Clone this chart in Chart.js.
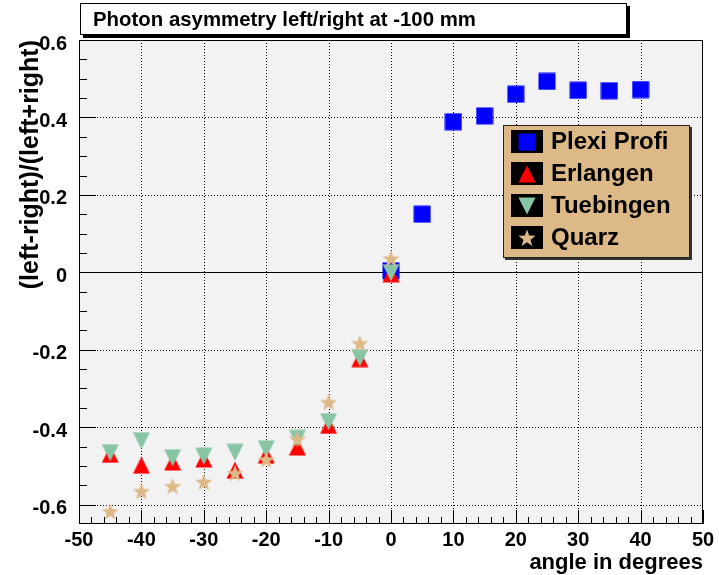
<!DOCTYPE html>
<html>
<head>
<meta charset="utf-8">
<script src="https://cdn.jsdelivr.net/npm/chart.js@4.4.1/dist/chart.umd.min.js"></script>
<style>
  html, body { margin: 0; padding: 0; background: #fff; }
  canvas { display: block; }
</style>
</head>
<body>
<canvas id="c" width="719" height="575"></canvas>
<script>
// Measured asymmetry (left-right)/(left+right) vs. angle
const anglesScan = [-45, -40, -35, -30, -25, -20, -15, -10, -5, 0];
const anglesPlexi = [0, 5, 10, 15, 20, 25, 30, 35, 40];
const plexiProfi = [0.004, 0.150, 0.389, 0.404, 0.460, 0.493, 0.470, 0.469, 0.472];
const erlangen   = [-0.470, -0.498, -0.490, -0.482, -0.511, -0.472, -0.451, -0.395, -0.223, -0.004];
const tuebingen  = [-0.466, -0.435, -0.479, -0.475, -0.465, -0.456, -0.429, -0.386, -0.221, -0.001];
const quarz      = [-0.618, -0.566, -0.553, -0.542, -0.519, -0.484, -0.431, -0.336, -0.184, 0.035];

const xTickValues = [-50, -40, -30, -20, -10, 0, 10, 20, 30, 40, 50];
const yTickValues = [-0.6, -0.4, -0.2, 0, 0.2, 0.4, 0.6];
const seriesNames = ['Plexi Profi', 'Erlangen', 'Tuebingen', 'Quarz'];

const FONT = "'Liberation Sans', Arial, Helvetica, sans-serif";
const TAN = '#dcb986';
const GREEN = '#88c5a5';

// Filled marker sprites (square, up/down triangle, 5-point star)
function makeMarker(kind, color) {
  const s = 18;
  const c = document.createElement('canvas');
  c.width = s; c.height = s;
  const g = c.getContext('2d');
  g.fillStyle = color;
  g.beginPath();
  if (kind === 'square') {
    g.rect(0.5, 0.5, 17, 17);
  } else if (kind === 'up') {
    g.moveTo(9, 0.5); g.lineTo(17.5, 17.5); g.lineTo(0.5, 17.5);
  } else if (kind === 'down') {
    g.moveTo(0.5, 0.5); g.lineTo(17.5, 0.5); g.lineTo(9, 17.5);
  } else {
    const R = 9, r = 3.7, cx = 9, cy = 9.6;
    for (let k = 0; k < 10; k++) {
      const rad = k % 2 === 0 ? R : r;
      const a = -Math.PI / 2 + k * Math.PI / 5;
      const px = cx + rad * Math.cos(a), py = cy + rad * Math.sin(a);
      if (k === 0) g.moveTo(px, py); else g.lineTo(px, py);
    }
  }
  g.closePath();
  g.fill();
  return c;
}

const mSquare = makeMarker('square', '#0000ff');
const mUp = makeMarker('up', '#ff0000');
const mDown = makeMarker('down', GREEN);
const mStar = makeMarker('star', TAN);

const toPoints = (xs, ys) => xs.map((x, i) => ({ x: x, y: ys[i] }));

const datasets = [
  { label: seriesNames[0], data: toPoints(anglesPlexi, plexiProfi), pointStyle: mSquare, order: 3 },
  { label: seriesNames[1], data: toPoints(anglesScan, erlangen), pointStyle: mUp, order: 2 },
  { label: seriesNames[2], data: toPoints(anglesScan, tuebingen), pointStyle: mDown, order: 1 },
  { label: seriesNames[3], data: toPoints(anglesScan, quarz), pointStyle: mStar, order: 0 }
];

function line(ctx, x1, y1, x2, y2) {
  ctx.beginPath(); ctx.moveTo(x1, y1); ctx.lineTo(x2, y2); ctx.stroke();
}

// Frame, dotted grid, zero line, inner ticks, title pave and legend box
const rootStyle = {
  id: 'rootStyle',
  beforeDraw(chart) {
    const { ctx, chartArea: a } = chart;
    ctx.save();
    ctx.fillStyle = '#ffffff';
    ctx.fillRect(0, 0, chart.width, chart.height);
    ctx.fillStyle = '#f2f2f2';
    ctx.fillRect(a.left, a.top, a.right - a.left, a.bottom - a.top);
    ctx.restore();
  },
  beforeDatasetsDraw(chart) {
    const { ctx, chartArea: a } = chart;
    const xs = chart.scales.x, ys = chart.scales.y;
    ctx.save();
    ctx.strokeStyle = '#000';
    ctx.lineWidth = 1;
    ctx.setLineDash([1, 2]);
    xTickValues.forEach(v => {
      const px = Math.round(xs.getPixelForValue(v)) + 0.5;
      if (px <= a.left + 1 || px >= a.right - 1) return;
      line(ctx, px, a.top, px, a.bottom);
    });
    yTickValues.forEach(v => {
      if (v === 0) return;
      const py = Math.round(ys.getPixelForValue(v)) + 0.5;
      if (py <= a.top + 1 || py >= a.bottom - 1) return;
      line(ctx, a.left, py, a.right, py);
    });
    ctx.setLineDash([]);
    const p0 = Math.round(ys.getPixelForValue(0)) + 0.5;
    line(ctx, a.left, p0, a.right, p0);

    // x ticks: major every 10, minor every 2
    for (let k = -25; k <= 25; k++) {
      const v = k * 2;
      const px = Math.round(xs.getPixelForValue(v)) + 0.5;
      const len = (v % 10 === 0) ? 14 : 7;
      line(ctx, px, a.bottom, px, a.bottom - len);
    }
    // y ticks: major every 0.2, minor every 0.05
    for (let k = -12; k <= 12; k++) {
      const v = k * 0.05;
      const py = Math.round(ys.getPixelForValue(v)) + 0.5;
      const len = (k % 4 === 0) ? 17 : 8;
      line(ctx, a.left, py, a.left + len, py);
    }
    ctx.strokeRect(a.left + 0.5, a.top + 0.5, a.right - a.left - 1, a.bottom - a.top - 1);
    ctx.restore();
  },
  afterDraw(chart) {
    const ctx = chart.ctx;
    ctx.save();
    // title pave
    ctx.fillStyle = '#000';
    ctx.fillRect(83, 6, 547, 32);
    ctx.fillStyle = '#fff';
    ctx.fillRect(80, 3, 547, 32);
    ctx.strokeStyle = '#000';
    ctx.lineWidth = 1;
    ctx.strokeRect(80.5, 3.5, 546, 31);
    ctx.fillStyle = '#000';
    ctx.font = 'bold 20.4px ' + FONT;
    ctx.textBaseline = 'middle';
    ctx.textAlign = 'left';
    ctx.fillText('Photon asymmetry left/right at -100 mm', 93, 20);

    // legend box
    const lx = 503, ly = 125, lw = 187, lh = 133;
    ctx.fillStyle = '#333';
    ctx.fillRect(lx + 2, ly + 2, lw, lh);
    ctx.fillStyle = TAN;
    ctx.fillRect(lx, ly, lw, lh);
    ctx.strokeStyle = '#222';
    ctx.strokeRect(lx + 0.5, ly + 0.5, lw - 1, lh - 1);
    ctx.font = 'bold 24px ' + FONT;
    chart.data.datasets.forEach((ds, i) => {
      const cy = 141.5 + 32 * i;
      ctx.fillStyle = '#000';
      ctx.fillRect(511, Math.round(cy - 11.5), 32, 23);
      ctx.drawImage(ds.pointStyle, 527 - 9, Math.round(cy - 9));
      ctx.fillText(ds.label, 551, cy + 1);
    });
    ctx.restore();
  }
};

const tickFont = { family: FONT, weight: 'bold', size: 20 };

new Chart(document.getElementById('c'), {
  type: 'scatter',
  data: { datasets: datasets },
  options: {
    responsive: false,
    animation: false,
    devicePixelRatio: 1,
    layout: { padding: { top: 40, right: 16, left: 0, bottom: 0 } },
    elements: { point: { radius: 9, hoverRadius: 9, borderWidth: 0 } },
    plugins: {
      legend: { display: false },
      tooltip: { enabled: false },
      title: { display: false }
    },
    scales: {
      x: {
        type: 'linear',
        min: -50, max: 50,
        afterBuildTicks: s => { s.ticks = xTickValues.map(v => ({ value: v })); },
        afterFit: s => { s.height = 51; },
        grid: { display: false },
        border: { display: false },
        ticks: {
          color: '#000', font: tickFont, padding: -4,
          autoSkip: false, maxRotation: 0,
          callback: v => String(v)
        },
        title: {
          display: true, text: 'angle in degrees', align: 'end',
          color: '#000', font: { family: FONT, weight: 'bold', size: 22 },
          padding: { top: 0, bottom: -1 }
        }
      },
      y: {
        type: 'linear',
        min: -0.65, max: 0.6,
        afterBuildTicks: s => { s.ticks = yTickValues.map(v => ({ value: v })); },
        afterFit: s => { s.width = 79; },
        grid: { display: false },
        border: { display: false },
        ticks: {
          color: '#000', font: tickFont, padding: 4, labelOffset: 4,
          autoSkip: false,
          callback: v => (Math.abs(v) < 1e-9 ? '0' : v.toFixed(1))
        },
        title: {
          display: true, text: '(left-right)/(left+right)', align: 'end',
          color: '#000', font: { family: FONT, weight: 'bold', size: 25 },
          padding: { top: 16, bottom: 0 }
        }
      }
    }
  },
  plugins: [rootStyle]
});
</script>
</body>
</html>
